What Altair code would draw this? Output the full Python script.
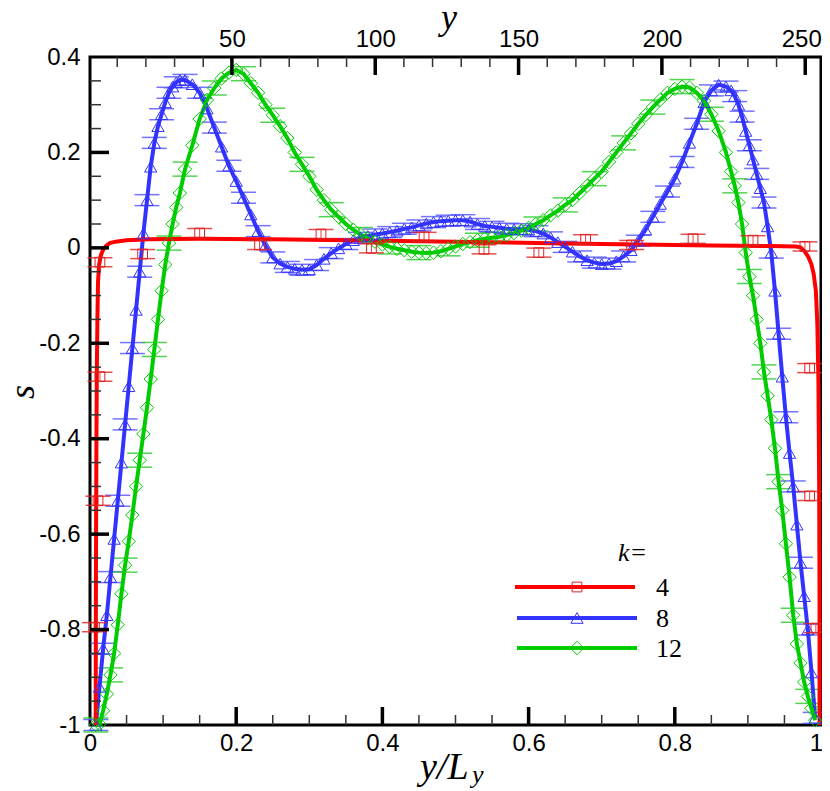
import altair as alt
import pandas as pd

# ---------------- data ----------------
# y/L_y grid used for k=8 and k=12
X_LEFT = [0.008, 0.013, 0.018, 0.023, 0.028, 0.033, 0.038, 0.043, 0.048, 0.053, 0.058, 0.063,
          0.068, 0.073, 0.078, 0.083, 0.088, 0.093, 0.098, 0.103, 0.108, 0.113, 0.118, 0.123]
X_MID = [0.13, 0.14, 0.15, 0.16, 0.17, 0.18, 0.19, 0.20, 0.21, 0.22, 0.23, 0.24, 0.25, 0.26, 0.27, 0.28, 0.29,
         0.30, 0.31, 0.32, 0.33, 0.34, 0.35, 0.36, 0.37, 0.38, 0.39, 0.40, 0.41, 0.42, 0.43, 0.44, 0.45, 0.46,
         0.47, 0.48, 0.49, 0.50, 0.51, 0.52, 0.53, 0.54, 0.55, 0.56, 0.57, 0.58, 0.59, 0.60, 0.61, 0.62, 0.63,
         0.64, 0.65, 0.66, 0.67, 0.68, 0.69, 0.70, 0.71, 0.72, 0.73, 0.74, 0.75, 0.76, 0.77, 0.78, 0.79, 0.80,
         0.81, 0.82, 0.83, 0.84, 0.85, 0.86, 0.87]
X_RIGHT = [0.877, 0.882, 0.887, 0.892, 0.897, 0.902, 0.907, 0.912, 0.917, 0.922, 0.927, 0.932,
           0.937, 0.942, 0.947, 0.952, 0.957, 0.962, 0.967, 0.972, 0.977, 0.982, 0.987, 0.992]

# k = 8
S8_LEFT = [-1.00, -0.92, -0.84, -0.77, -0.69, -0.61, -0.53, -0.45, -0.37, -0.29, -0.21, -0.13,
           -0.05, 0.03, 0.10, 0.17, 0.22, 0.255, 0.28, 0.305, 0.325, 0.338, 0.347, 0.352]
S8_MID = [0.352, 0.343, 0.325, 0.292, 0.252, 0.212, 0.172, 0.14, 0.105, 0.07, 0.035, 0.005, -0.02, -0.033, -0.04, -0.044, -0.046,
          -0.045, -0.036, -0.023, -0.011, -0.001, 0.008, 0.016, 0.021, 0.025, 0.028, 0.03, 0.033, 0.036, 0.04, 0.043, 0.047, 0.051,
          0.054, 0.056, 0.057, 0.058, 0.058, 0.055, 0.05, 0.046, 0.044, 0.042, 0.04, 0.039, 0.039, 0.038, 0.035, 0.03, 0.022,
          0.012, 0.002, -0.008, -0.018, -0.026, -0.031, -0.034, -0.033, -0.028, -0.018, -0.005, 0.015, 0.038, 0.065, 0.092, 0.118, 0.145,
          0.18, 0.22, 0.26, 0.305, 0.33, 0.342, 0.338]
S8_RIGHT = [0.33, 0.318, 0.30, 0.275, 0.245, 0.215, 0.185, 0.155, 0.125, 0.095, 0.045, -0.01,
            -0.09, -0.18, -0.27, -0.355, -0.43, -0.50, -0.58, -0.66, -0.73, -0.80, -0.89, -0.985]

# k = 12
S12_LEFT = [-1.0, -0.998, -0.97, -0.935, -0.895, -0.85, -0.79, -0.725, -0.665, -0.615, -0.56, -0.50,
            -0.445, -0.39, -0.335, -0.275, -0.213, -0.15, -0.09, -0.035, 0.01, 0.05, 0.085, 0.115]
S12_MID = [0.165, 0.215, 0.27, 0.31, 0.335, 0.355, 0.367, 0.373, 0.365, 0.345, 0.325, 0.30, 0.278, 0.255, 0.23, 0.20, 0.175,
           0.15, 0.122, 0.10, 0.08, 0.065, 0.05, 0.038, 0.028, 0.02, 0.013, 0.007, 0.002, -0.002, -0.005, -0.008, -0.01, -0.011,
           -0.01, -0.007, -0.002, 0.003, 0.008, 0.012, 0.016, 0.019, 0.021, 0.023, 0.027, 0.031, 0.036, 0.042, 0.05, 0.058, 0.068,
           0.078, 0.09, 0.10, 0.115, 0.13, 0.145, 0.16, 0.18, 0.20, 0.22, 0.24, 0.26, 0.278, 0.295, 0.31, 0.325, 0.333,
           0.338, 0.336, 0.325, 0.308, 0.28, 0.245, 0.20]
S12_RIGHT = [0.16, 0.13, 0.095, 0.05, -0.01, -0.06, -0.10, -0.15, -0.20, -0.26, -0.31, -0.36,
             -0.42, -0.49, -0.55, -0.62, -0.69, -0.77, -0.83, -0.87, -0.91, -0.94, -0.965, -0.99]

# k = 4 (line)
RED_X = [0.0078, 0.0080, 0.0083, 0.0088, 0.0094, 0.0102, 0.011, 0.0125, 0.015, 0.018, 0.022, 0.027,
         0.035, 0.05, 0.08, 0.15, 0.25, 0.35, 0.45, 0.55, 0.65, 0.75, 0.85, 0.93, 0.965, 0.972,
         0.978, 0.983, 0.987, 0.990, 0.993, 0.995, 0.9965, 0.9975, 0.998, 0.998]
RED_S = [-1.0, -0.8, -0.6, -0.4, -0.25, -0.14, -0.07, -0.035, -0.015, -0.004, 0.004, 0.01,
         0.013, 0.016, 0.018, 0.019, 0.018, 0.016, 0.014, 0.012, 0.009, 0.007, 0.005, 0.004, 0.003, 0.001,
         -0.008, -0.02, -0.035, -0.055, -0.09, -0.16, -0.28, -0.5, -0.75, -1.0]
# k = 4 (symbols with error bars)
RED_MX = [0.006, 0.011, 0.0136, 0.0136, 0.072, 0.15, 0.232, 0.316, 0.385, 0.457, 0.539, 0.614,
          0.678, 0.741, 0.825, 0.907, 0.978, 0.9845, 0.9845, 0.993]
RED_MS = [-0.795, -0.53, -0.27, -0.03, -0.013, 0.031, 0.006, 0.029, -0.001, 0.023, -0.003, -0.01,
          0.018, 0.006, 0.019, 0.016, 0.003, -0.252, -0.52, -0.797]
ERR4, ERR8, ERR12 = 0.0095, 0.0115, 0.0147

X_TICKS = [0, 0.2, 0.4, 0.6, 0.8, 1]
Y_TICKS = [-1, -0.8, -0.6, -0.4, -0.2, 0, 0.2, 0.4]
TOP_TICKS = [50, 100, 150, 200, 250]
X_MAJOR = [0.2, 0.4, 0.6, 0.8]
X_MINOR = [0.05, 0.1, 0.15, 0.25, 0.3, 0.35, 0.45, 0.5, 0.55, 0.65, 0.7, 0.75, 0.85, 0.9, 0.95]
Y_MAJOR = [-0.8, -0.6, -0.4, -0.2, 0, 0.2]
Y_MINOR = [-0.95, -0.9, -0.85, -0.75, -0.7, -0.65, -0.55, -0.5, -0.45, -0.35, -0.3, -0.25,
           -0.15, -0.1, -0.05, 0.05, 0.1, 0.15, 0.25, 0.3, 0.35]
TOP_MINOR = [10, 20, 30, 40, 60, 70, 80, 90, 110, 120, 130, 140, 160, 170, 180, 190,
             210, 220, 230, 240]
LEGEND_LABELS = ["4", "8", "12"]

RED, BLUE, GREEN = "#ff0000", "#3333ff", "#00cc00"

# ---------------- build ----------------
X_GRID = X_LEFT + X_MID + X_RIGHT
S8 = S8_LEFT + S8_MID + S8_RIGHT
S12 = S12_LEFT + S12_MID + S12_RIGHT
assert len(X_GRID) == len(S8) == len(S12)
assert len(RED_X) == len(RED_S) and len(RED_MX) == len(RED_MS)

W, H = 731, 668
XS = alt.Scale(domain=[0, 1], nice=False, zero=False)
YS = alt.Scale(domain=[-1, 0.4], nice=False, zero=False)
TS = alt.Scale(domain=[0.5, 255.5], nice=False, zero=False)
LE = "datum.value < 0 ? '-' + format(-datum.value, '~g') : format(datum.value, '~g')"
SANS = "Liberation Sans"
SERIF = "Liberation Serif"

XAX = alt.Axis(values=X_TICKS, labelExpr=LE, ticks=False, domain=False, grid=False,
               labelFont=SANS, labelFontSize=24, labelColor="black", labelPadding=6,
               labelFlush=False, labelOverlap=False, title="",
               labelOffset={"condition": {"test": "datum.value == 1", "value": -5}, "value": 0})
YAX = alt.Axis(values=Y_TICKS, labelExpr=LE, ticks=False, domain=False, grid=False,
               labelFont=SANS, labelFontSize=24, labelColor="black", labelPadding=10,
               labelFlush=False, labelOverlap=False, title="")
TAX = alt.Axis(orient="top", values=TOP_TICKS, ticks=False, domain=False, grid=False,
               labelFont=SANS, labelFontSize=24, labelColor="black", labelPadding=6,
               labelFlush=False, labelOverlap=False, title="",
               labelOffset={"condition": {"test": "datum.value == 250", "value": -4}, "value": 0})


def ex():
    return alt.X("x:Q", scale=XS, axis=XAX)


def ey(field="s"):
    return alt.Y(field + ":Q", scale=YS, axis=YAX)


def series_df(xs, ss):
    return pd.DataFrame({"x": xs, "s": ss, "i": list(range(len(xs)))})


df4 = series_df(RED_X, RED_S)
df4m = pd.DataFrame({"x": RED_MX, "s": RED_MS})
df8 = series_df(X_GRID, S8)
df12 = series_df(X_GRID, S12)


def caps_df(df, e):
    return pd.concat([pd.DataFrame({"x": df["x"], "s": df["s"] + e}),
                      pd.DataFrame({"x": df["x"], "s": df["s"] - e})], ignore_index=True)


def line(df, color):
    return alt.Chart(df).mark_line(color=color, strokeWidth=4).encode(
        x=ex(), y=ey(), order="i:Q")


def points(df, color, shape, size):
    return alt.Chart(df).mark_point(shape=shape, filled=False, size=size, strokeWidth=1,
                                    color=color, opacity=1).encode(x=ex(), y=ey())


def caps(df, e, color, opacity):
    return alt.Chart(caps_df(df, e)).mark_tick(orient="horizontal", size=25, thickness=1.5,
                                               color=color, opacity=opacity).encode(x=ex(), y=ey())


def bars(df, e, color, opacity):
    d = pd.DataFrame({"x": df["x"], "lo": df["s"] - e, "hi": df["s"] + e})
    return alt.Chart(d).mark_rule(color=color, strokeWidth=1, opacity=opacity).encode(
        x=ex(), y=ey("lo"), y2="hi:Q")


b_err = df8.iloc[::2]
g_err = df12.iloc[::4]

DUMMY = pd.DataFrame({"d": [0]})


def txt(text, x, y, size, italic=True, align="left", angle=0, baseline="alphabetic", font=SERIF):
    return alt.Chart(DUMMY).mark_text(
        text=text, font=font, fontSize=size, fontStyle="italic" if italic else "normal",
        align=align, baseline=baseline, angle=angle, color="black").encode(
        x=alt.value(x), y=alt.value(y))


def leg_line(color, x1, x2, y):
    return alt.Chart(DUMMY).mark_rule(color=color, strokeWidth=4).encode(
        x=alt.value(x1), x2=alt.value(x2), y=alt.value(y))


def leg_point(color, shape, size, x, y):
    return alt.Chart(DUMMY).mark_point(shape=shape, filled=False, size=size, strokeWidth=1,
                                       color=color, opacity=1).encode(x=alt.value(x), y=alt.value(y))


# inward ticks
bx_major = alt.Chart(pd.DataFrame({"x": X_MAJOR})).mark_rule(color="black", strokeWidth=3.5).encode(
    x=ex(), y=alt.value(H), y2=alt.value(H - 18))
bx_minor = alt.Chart(pd.DataFrame({"x": X_MINOR})).mark_rule(color="#333333", strokeWidth=1.5).encode(
    x=ex(), y=alt.value(H), y2=alt.value(H - 10))
ly_major = alt.Chart(pd.DataFrame({"s": Y_MAJOR})).mark_rule(color="black", strokeWidth=3.5).encode(
    y=ey(), x=alt.value(0), x2=alt.value(19))
ly_minor = alt.Chart(pd.DataFrame({"s": Y_MINOR})).mark_rule(color="#333333", strokeWidth=1.5).encode(
    y=ey(), x=alt.value(0), x2=alt.value(11))

inner = alt.layer(
    caps(b_err, ERR8, "#5a5aff", 0.85),
    caps(g_err, ERR12, "#33cc33", 0.85),
    line(df8, BLUE),
    line(df12, GREEN),
    line(df4, RED),
    points(df8, BLUE, "triangle-up", 150),
    points(df12, GREEN, "diamond", 180),
    bars(df4m, ERR4, "#dd2222", 0.85),
    caps(df4m, ERR4, "#dd2222", 0.8),
    points(df4m, "#dd2222", "square", 95),
    bx_major, bx_minor, ly_major, ly_minor,
    # legend
    txt("k=", 528, 504, 26),
    leg_line(RED, 425, 545, 530),
    leg_point("#dd2222", "square", 95, 487, 530),
    leg_line(BLUE, 427, 547, 561),
    leg_point(BLUE, "triangle-up", 150, 487, 561),
    leg_line(GREEN, 427, 547, 591),
    leg_point(GREEN, "diamond", 180, 487, 591),
    txt(LEGEND_LABELS[0], 566, 539, 26, italic=False),
    txt(LEGEND_LABELS[1], 566, 570, 26, italic=False),
    txt(LEGEND_LABELS[2], 566, 600, 26, italic=False),
    # axis titles
    txt("y/L", 330, 722, 38),
    txt("y", 382, 726, 26),
    txt("y", 359, -28, 36, align="center"),
    txt("s", -67, 335, 36, align="center", angle=270, baseline="middle"),
)

top_major = alt.Chart(pd.DataFrame({"yy": TOP_TICKS})).mark_rule(color="black", strokeWidth=3.5).encode(
    x=alt.X("yy:Q", scale=TS, axis=TAX), y=alt.value(0), y2=alt.value(18))
top_minor = alt.Chart(pd.DataFrame({"yy": TOP_MINOR})).mark_rule(color="#333333", strokeWidth=1.5).encode(
    x=alt.X("yy:Q", scale=TS, axis=TAX), y=alt.value(0), y2=alt.value(10))
top = alt.layer(top_major, top_minor)

chart = alt.layer(inner, top).resolve_scale(x="independent").properties(
    width=W, height=H,
    padding={"left": 82, "top": 49, "right": 1, "bottom": 70},
    autosize=alt.AutoSizeParams(type="none"),
    background="white",
).configure_view(stroke="black", strokeWidth=3)

chart.save("out.html", embed_options={"renderer": "svg", "actions": False})
